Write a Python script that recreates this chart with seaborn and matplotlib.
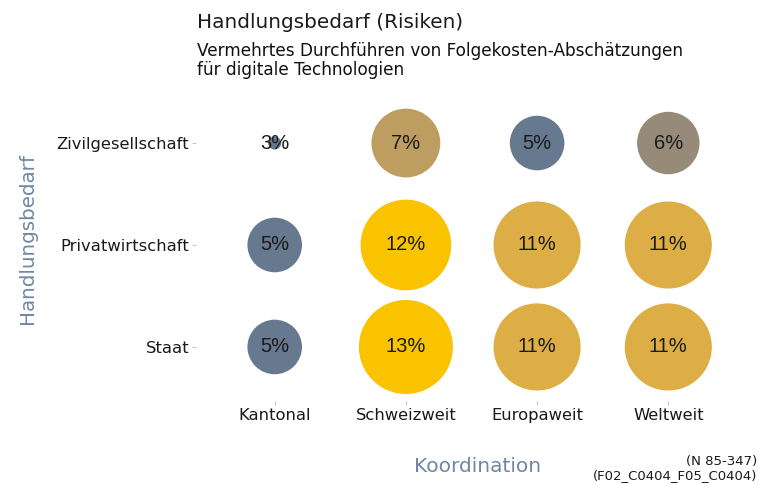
import matplotlib
matplotlib.use("Agg")
import matplotlib.pyplot as plt
import matplotlib.colors as mcolors
import seaborn as sns
import pandas as pd

# ---- data ----
koordination = ["Kantonal", "Schweizweit", "Europaweit", "Weltweit"]
handlungsbedarf = ["Zivilgesellschaft", "Privatwirtschaft", "Staat"]
zivilgesellschaft = [3, 7, 5, 6]
privatwirtschaft = [5, 12, 11, 11]
staat = [5, 13, 11, 11]

title = "Handlungsbedarf (Risiken)"
subtitle1 = "Vermehrtes Durchführen von Folgekosten-Abschätzungen"
subtitle2 = "für digitale Technologien"
caption1 = "(N 85-347)"
caption2 = "(F02_C0404_F05_C0404)"

rows = {"Zivilgesellschaft": zivilgesellschaft,
        "Privatwirtschaft": privatwirtschaft,
        "Staat": staat}
records = []
for h in handlungsbedarf:
    for k, v in zip(koordination, rows[h]):
        records.append({"Koordination": k, "Handlungsbedarf": h, "Anteil": v})
df = pd.DataFrame(records)

# ---- style ----
sns.set_theme(style="white")
plt.rcParams["font.family"] = ["DejaVu Sans"]

W, H, DPI = 761, 484, 100
fig = plt.figure(figsize=(W / DPI, H / DPI), dpi=DPI)
ax = fig.add_axes([196 / W, 1 - 401 / H, (747 - 196) / W, (401 - 89) / H])

cmap = mcolors.LinearSegmentedColormap.from_list(
    "risk",
    [(0.0, "#66798f"), (0.2, "#66798f"), (0.3, "#968b78"), (0.4, "#bd9d60"),
     (0.8, "#dcae45"), (0.9, "#f9c300"), (1.0, "#f9c300")])

vmin, vmax = min(min(r) for r in rows.values()), max(max(r) for r in rows.values())
s_max = (94 * 72 / DPI) ** 2
s_min = (13 * 72 / DPI) ** 2

sns.scatterplot(data=df, x="Koordination", y="Handlungsbedarf",
                size="Anteil", sizes=(s_min, s_max),
                size_norm=mcolors.PowerNorm(0.7, vmin=vmin, vmax=vmax),
                hue="Anteil", palette=cmap, hue_norm=(vmin, vmax),
                linewidth=0, legend=False, ax=ax, zorder=2)

for h_i, h in enumerate(handlungsbedarf):
    for k_i, v in enumerate(rows[h]):
        ax.text(k_i, h_i, f"{v}%", ha="center", va="center",
                fontsize=14.5, color="#1a1a1a",
                family=["Liberation Sans", "DejaVu Sans"], zorder=3)

ax.set_xlim(-0.6, len(koordination) - 1 + 0.6)
ax.set_ylim(len(handlungsbedarf) - 1 + 0.53, -0.53)
for sp in ax.spines.values():
    sp.set_visible(False)
ax.grid(False)
ax.set_xlabel("")
ax.set_ylabel("")
ax.tick_params(axis="both", bottom=True, left=True, length=3, width=0.8,
               color="#c8c8c8", labelsize=11.8, labelcolor="#1a1a1a")
ax.tick_params(axis="x", pad=2)
ax.tick_params(axis="y", pad=2)

fig.text(197 / W, 1 - 22 / H, title, fontsize=14.4, color="#1a1a1a",
         ha="left", va="center")
fig.text(197 / W, 1 - 51 / H, subtitle1, fontsize=12.2, color="#111111",
         ha="left", va="center")
fig.text(197 / W, 1 - 70 / H, subtitle2, fontsize=12.2, color="#111111",
         ha="left", va="center")
fig.text(28 / W, 245 / H, "Handlungsbedarf", rotation=90, fontsize=14.3,
         color="#6f87a3", ha="center", va="center")
fig.text(478 / W, 1 - 466 / H, "Koordination", fontsize=14.5,
         color="#6f87a3", ha="center", va="center")
fig.text(757 / W, 1 - 462 / H, caption1, fontsize=9.5, color="#1a1a1a",
         ha="right", va="center")
fig.text(757 / W, 1 - 476 / H, caption2, fontsize=9.5, color="#1a1a1a",
         ha="right", va="center")

fig.savefig("out.png", dpi=DPI)
